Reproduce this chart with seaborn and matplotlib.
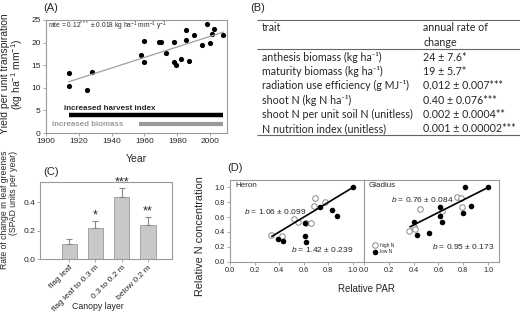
import matplotlib
matplotlib.use("Agg")
import matplotlib.pyplot as plt
import numpy as np
import pandas as pd
import seaborn as sns

# (A) yield per unit transpiration against year of release
years = [1914, 1914, 1925, 1928, 1958, 1960, 1960, 1969, 1970, 1973, 1978, 1978,
         1979, 1982, 1985, 1985, 1987, 1990, 1995, 1998, 2000, 2001, 2002, 2008]
yield_te = [13.2, 10.4, 9.5, 13.6, 17.2, 20.4, 15.7, 20.1, 20.1, 17.6, 20.1, 15.6,
            15.0, 16.4, 20.6, 22.7, 16.0, 21.6, 19.5, 24.1, 19.9, 22.0, 23.1, 21.6]
harvest_index_span = [1914, 2008]
biomass_span = [1957, 2008]

# (B) annual rate of change table
traits = [
    "anthesis biomass (kg ha⁻¹)",
    "maturity biomass (kg ha⁻¹)",
    "radiation use efficiency (g MJ⁻¹)",
    "shoot N (kg N ha⁻¹)",
    "shoot N per unit soil N (unitless)",
    "N nutrition index (unitless)",
]
trait_rates = [
    "24 ± 7.6*",
    "19 ± 5.7*",
    "0.012 ± 0.007***",
    "0.40 ± 0.076***",
    "0.002 ± 0.0004**",
    "0.001 ± 0.00002***",
]

# (C) change in leaf greenness by canopy layer
layers = ["flag leaf", "flag leaf to 0.3 m", "0.3 to 0.2 m", "below 0.2 m"]
layer_rates = [0.11, 0.22, 0.44, 0.24]
layer_err = [0.033, 0.05, 0.06, 0.056]
layer_stars = ["", "*", "***", "**"]

# (D) relative N concentration vs relative PAR
heron_high_par = [0.33, 0.42, 0.52, 0.55, 0.62, 0.66, 0.68, 0.69, 0.77]
heron_high_n = [0.36, 0.34, 0.58, 0.53, 0.52, 0.52, 0.75, 0.86, 0.80]
heron_low_par = [0.39, 0.43, 0.61, 0.61, 0.62, 0.73, 0.83, 0.87, 1.0]
heron_low_n = [0.31, 0.28, 0.52, 0.35, 0.26, 0.73, 0.70, 0.61, 1.0]
heron_fit_par = [0.34, 1.0]
heron_fit_n = [0.34, 1.0]

gladius_high_par = [0.36, 0.40, 0.41, 0.45, 0.63, 0.75, 0.78, 0.79]
gladius_high_n = [0.42, 0.47, 0.44, 0.71, 0.68, 0.87, 0.86, 0.74]
gladius_low_par = [0.40, 0.43, 0.52, 0.61, 0.61, 0.63, 0.81, 0.80, 0.86, 1.0]
gladius_low_n = [0.53, 0.36, 0.38, 0.74, 0.62, 0.54, 1.0, 0.66, 0.75, 1.0]
gladius_fit_par = [0.37, 1.0]
gladius_fit_n = [0.47, 1.0]

sns.set_style("ticks")
plt.rcParams["font.family"] = ["Liberation Sans", "DejaVu Sans"]
plt.rcParams["mathtext.fontset"] = "custom"
plt.rcParams["mathtext.rm"] = "Liberation Sans"
plt.rcParams["mathtext.it"] = "Liberation Sans:italic"
plt.rcParams["mathtext.bf"] = "Liberation Sans:bold"

W, H = 520, 316
fig = plt.figure(figsize=(W / 100, H / 100), dpi=100)


def add_ax(left, top, right, bottom):
    # axes placed in pixel coordinates of the 520x316 canvas
    return fig.add_axes([left / W, 1 - bottom / H, (right - left) / W, (bottom - top) / H])


def ftext(x, y, s, **kw):
    # figure text in pixel coordinates (from top-left)
    return fig.text(x / W, 1 - y / H, s, **kw)


def frame(ax, size):
    for s in ax.spines.values():
        s.set_color("#9a9a9a")
        s.set_linewidth(0.8)
    ax.tick_params(length=2, width=0.6, color="#9a9a9a", labelsize=size, pad=1.5)


# ---- (A)
ax_a = add_ax(45.7, 20, 226.7, 133)
sns.regplot(x=years, y=yield_te, scatter=False, ci=None, truncate=True,
            line_kws=dict(color="#a0a0a0", lw=0.9), ax=ax_a)
sns.scatterplot(x=years, y=yield_te, color="black", s=14, linewidth=0, ax=ax_a)
ax_a.hlines(4, *harvest_index_span, color="black", lw=3.2)
ax_a.hlines(1.9, *biomass_span, color="#9a9a9a", lw=3.0)
ax_a.text(1911, 5.4, "increased harvest index", fontsize=5.8, fontweight="bold", va="center")
ax_a.text(1904, 1.8, "increased biomass", fontsize=5.7, fontweight="bold",
          color="#9a9a9a", va="center")
ax_a.text(1901.5, 23.5, "rate = 0.12$^{***}$ ± 0.018 kg ha$^{-1}$ mm$^{-1}$ y$^{-1}$",
          fontsize=4.8, va="center")
ax_a.set_xlim(1900, 2010)
ax_a.set_ylim(0, 25)
ax_a.set_xticks(range(1900, 2001, 20))
ax_a.set_yticks(range(0, 26, 5))
ax_a.set_xlabel("Year", fontsize=7.5)
ax_a.xaxis.set_label_coords(0.5, -0.19)
frame(ax_a, 6)
ftext(12.5, 74, "Yield per unit transpiration\n(kg ha$^{-1}$ mm$^{-1}$)", fontsize=7.5,
      rotation=90, ha="center", va="center", linespacing=1.0)
ftext(43, 8, "(A)", fontsize=8, va="center")

# ---- (B)
ax_b = add_ax(250, 0, 520, 140)
ax_b.set_xlim(250, 520)
ax_b.set_ylim(140, 0)
ax_b.axis("off")
tfont = dict(family=["Lato", "DejaVu Sans"], fontsize=7.7, va="center")
ax_b.hlines([20.5, 49, 135], 257, 520, color="#666666", lw=0.8)
ax_b.text(262, 27.5, "trait", **tfont)
ax_b.text(423, 27.5, "annual rate of", **tfont)
ax_b.text(423, 42, "change", **tfont)
for i, (t, r) in enumerate(zip(traits, trait_rates)):
    ax_b.text(262, 57.5 + i * 14.2, t, **tfont)
    ax_b.text(423, 57.5 + i * 14.2, r, **tfont)
ftext(250, 8, "(B)", fontsize=8, va="center")

# ---- (C)
ax_c = add_ax(40, 181.7, 172.3, 259.3)
df_c = pd.DataFrame({"layer": layers, "rate": layer_rates})
sns.barplot(data=df_c, x="layer", y="rate", color="#c8c8c8", saturation=1,
            edgecolor="#9a9a9a", linewidth=0.6, width=0.58, errorbar=None, ax=ax_c)
ax_c.errorbar(range(len(layers)), layer_rates, yerr=[np.zeros(len(layers)), layer_err],
              fmt="none", ecolor="#8a8a8a", elinewidth=0.8, capsize=2.2, capthick=0.8)
for i, (v, e, st) in enumerate(zip(layer_rates, layer_err, layer_stars)):
    ax_c.text(i, v + e - 0.005, st, ha="center", va="bottom", fontsize=9)
ax_c.set_xlim(-1.11, 3.92)
ax_c.set_ylim(0, 0.545)
ax_c.set_yticks([0.0, 0.2, 0.4])
ax_c.set_yticklabels(["0.0", "0.2", "0.4"])
ax_c.set_xticks(range(len(layers)))
ax_c.set_xticklabels(layers, rotation=45, ha="right", rotation_mode="anchor", fontsize=5)
ax_c.set_xlabel("Canopy layer", fontsize=6.3)
ax_c.set_ylabel("")
ax_c.xaxis.set_label_coords(0.44, -0.55)
frame(ax_c, 6)
ftext(18, 210, "Rate of change in leaf greenes\n(SPAD units per year)", fontsize=6.2,
      rotation=90, ha="right", va="center", multialignment="right", linespacing=1.05)
ftext(43, 172, "(C)", fontsize=8, va="center")

# ---- (D)
ax_h = add_ax(230, 180, 364, 261.7)
ax_g = add_ax(364, 180, 499.3, 261.7)
for ax, hp, hn, lp, ln, fp, fn in [
    (ax_h, heron_high_par, heron_high_n, heron_low_par, heron_low_n, heron_fit_par, heron_fit_n),
    (ax_g, gladius_high_par, gladius_high_n, gladius_low_par, gladius_low_n,
     gladius_fit_par, gladius_fit_n),
]:
    sns.lineplot(x=fp, y=fn, color="black", lw=1.2, ax=ax)
    sns.scatterplot(x=hp, y=hn, facecolor="white", edgecolor="#8a8a8a", linewidth=0.7,
                    s=16, label="high N", ax=ax)
    sns.scatterplot(x=lp, y=ln, color="black", linewidth=0, s=16, label="low N", ax=ax)
    ax.set_xlim(0, 1.09)
    ax.set_ylim(0, 1.1)
    ax.set_xticks(np.arange(0, 1.01, 0.2))
    ax.set_yticks(np.arange(0, 1.01, 0.2))
    ax.xaxis.set_major_formatter("{x:.1f}")
    ax.yaxis.set_major_formatter("{x:.1f}")
    frame(ax, 5.3)

ax_h.legend_.remove()
ax_g.legend(loc="lower left", fontsize=3.5, frameon=False, handletextpad=0.1,
            borderpad=0.2, labelspacing=0.3, markerscale=1.0, bbox_to_anchor=(0.02, 0.05))
ax_g.tick_params(axis="y", left=False, labelleft=False)
ax_h.text(0.04, 1.02, "Heron", fontsize=5.8, va="center")
ax_g.text(0.04, 1.02, "Gladius", fontsize=5.8, va="center")
ax_h.text(0.11, 0.67, "$b$ = 1.06 ± 0.099", fontsize=6, va="center")
ax_h.text(0.50, 0.16, "$b$ = 1.42 ± 0.239", fontsize=6, va="center")
ax_g.text(0.22, 0.84, "$b$ = 0.76 ± 0.084", fontsize=6, va="center")
ax_g.text(0.55, 0.20, "$b$ = 0.95 ± 0.173", fontsize=6, va="center")
ax_h.set_ylabel("")
ax_g.set_xlabel("")
ftext(200, 236, "Relative N concentration", fontsize=7.8, rotation=90,
      ha="center", va="center")
ftext(366, 289, "Relative PAR", fontsize=7, ha="center", va="center")
ftext(227, 168, "(D)", fontsize=8, va="center")

fig.savefig("out.png", dpi=100)
